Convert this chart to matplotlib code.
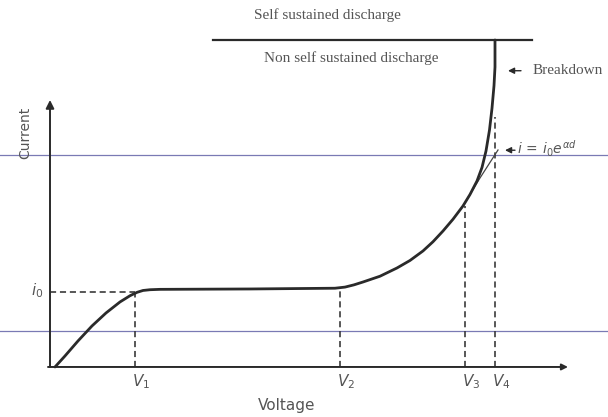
import matplotlib
matplotlib.use("Agg")
import matplotlib.pyplot as plt

# Current-voltage characteristic of a gas gap (Townsend discharge)
# units: voltage arbitrary, current in multiples of i0

volt = [0.05, 0.15, 0.28, 0.42, 0.56, 0.70, 0.80, 0.87, 0.93, 1.00, 1.10, 2.00,
        2.85, 2.95, 3.04, 3.13, 3.30, 3.47, 3.60, 3.73, 3.83, 3.93, 4.03,
        4.13, 4.20, 4.27, 4.32, 4.36, 4.395, 4.42, 4.44, 4.45, 4.45]
curr = [0.0, 0.147, 0.347, 0.547, 0.72, 0.867, 0.95, 0.995, 1.02, 1.03, 1.035, 1.04,
        1.05, 1.065, 1.095, 1.133, 1.21, 1.32, 1.42, 1.547, 1.67, 1.813, 1.97,
        2.147, 2.30, 2.48, 2.66, 2.88, 3.16, 3.45, 3.75, 4.00, 4.36]

# pure exponential growth i = i0 exp(alpha d) beyond V3
exp_volt = [4.13, 4.30, 4.48]
exp_curr = [2.147, 2.52, 2.893]

i0 = 1.0
v_marks = [0.85, 2.90, 4.15, 4.45]
v_tops = [1.0, 1.06, 2.15, 3.33]
v_labels = ["$V_1$", "$V_2$", "$V_3$", "$V_4$"]

breakdown_level = 4.36
breakdown_span = [1.63, 4.82]

# faint horizontal rules across the sheet
rule_levels = [2.827, 0.48]

plt.rcParams["mathtext.fontset"] = "dejavusans"

fig = plt.figure(figsize=(6.08, 4.17), dpi=100)
ax = fig.add_axes([0, 0, 1, 1])
ax.set_xlim(-0.50, 5.58)
ax.set_ylim(-0.667, 4.893)
ax.axis("off")

ink = "#2a2a2a"
grey = "#555555"

for lvl in rule_levels:
    ax.axhline(lvl, color="#7a7ab4", lw=0.9, zorder=1)

# axes with arrow heads
ax.annotate("", xy=(0, 3.56), xytext=(0, 0),
            arrowprops=dict(arrowstyle="-|>", color=ink, lw=1.4,
                            mutation_scale=12, shrinkA=0, shrinkB=0))
ax.annotate("", xy=(5.18, 0), xytext=(-0.02, 0),
            arrowprops=dict(arrowstyle="-|>", color=ink, lw=1.4,
                            mutation_scale=9, shrinkA=0, shrinkB=0))

# dashed guide lines
ax.plot([0, v_marks[0]], [i0, i0], ls=(0, (4, 2.5)), color=ink, lw=1.1)
for v, top, lab in zip(v_marks, v_tops, v_labels):
    ax.plot([v, v], [0, top], ls=(0, (4, 2.5)), color=ink, lw=1.1)
    ax.text(v + 0.06, -0.19, lab, ha="center", va="center",
            fontsize=11, color=grey)

ax.text(-0.13, i0 + 0.02, "$i_0$", ha="center", va="center",
        fontsize=11, color=grey)

# characteristic curve
ax.plot(volt, curr, color=ink, lw=2.0, solid_joinstyle="round",
        solid_capstyle="round", zorder=3)
ax.plot(exp_volt, exp_curr, color="#444444", lw=0.9, zorder=2)

# breakdown boundary
ax.plot(breakdown_span, [breakdown_level] * 2, color=ink, lw=1.6)

serif = "Liberation Serif"
ax.text(2.77, 4.69, "Self sustained discharge", ha="center", va="center",
        fontsize=11, family=serif, color=grey)
ax.text(3.01, 4.12, "Non self sustained discharge", ha="center", va="center",
        fontsize=11, family=serif, color=grey)

ax.annotate("", xy=(4.58, 3.95), xytext=(4.71, 3.95),
            arrowprops=dict(arrowstyle="-|>", color=ink, lw=1.0,
                            mutation_scale=9, shrinkA=0, shrinkB=0))
ax.text(4.83, 3.95, "Breakdown", ha="left", va="center",
        fontsize=11, family=serif, color=grey)

ax.annotate("", xy=(4.55, 2.89), xytext=(4.65, 2.89),
            arrowprops=dict(arrowstyle="-|>", color=ink, lw=1.0,
                            mutation_scale=9, shrinkA=0, shrinkB=0))
ax.text(4.67, 2.91, r"$i\,=\,i_0e^{\alpha d}$", ha="left", va="center",
        fontsize=10, color=grey)

ax.text(2.37, -0.51, "Voltage", ha="center", va="center",
        fontsize=11, color=grey)
ax.text(-0.25, 3.12, "Current", ha="center", va="center", rotation=90,
        fontsize=10, color=grey)

fig.savefig("out.png", dpi=100)
